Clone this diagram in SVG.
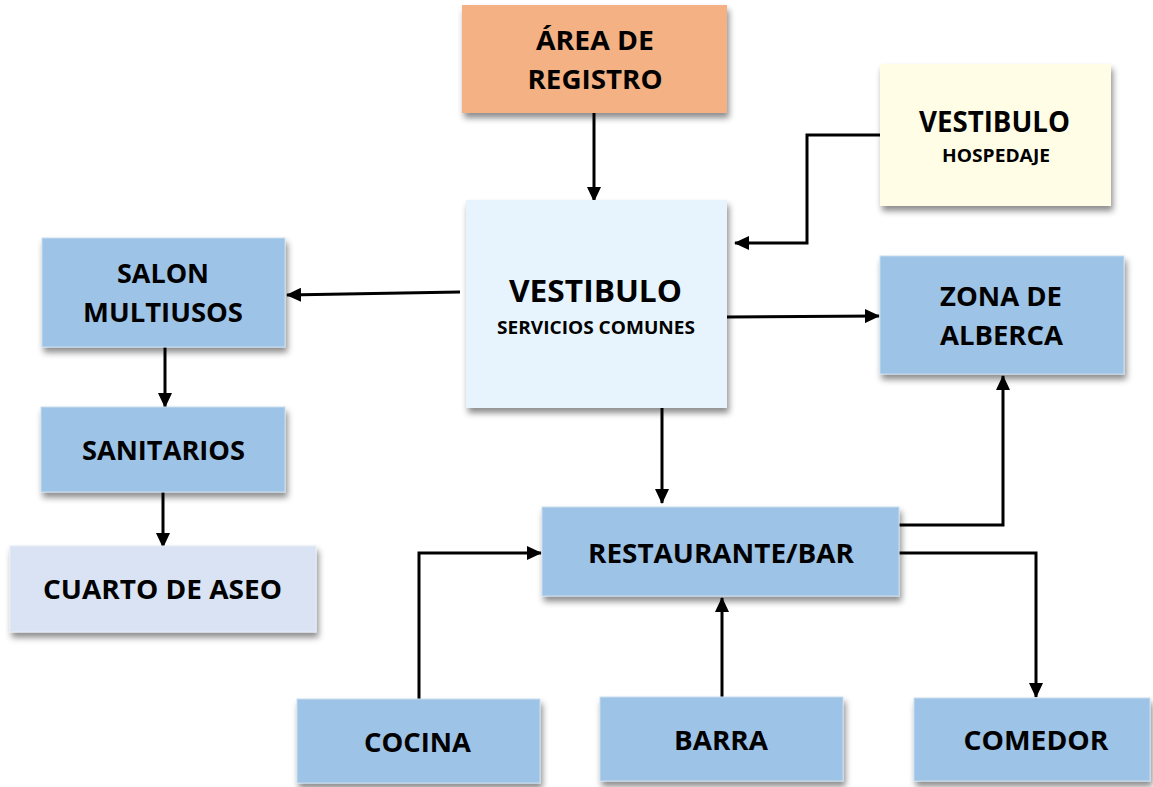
<svg xmlns="http://www.w3.org/2000/svg" width="1153" height="787" viewBox="0 0 1153 787">
<defs>
<filter id="sh" x="-10%" y="-10%" width="130%" height="140%">
<feDropShadow dx="2" dy="5" stdDeviation="3" flood-color="#000" flood-opacity="0.45"/>
</filter>
<marker id="ah" viewBox="0 0 15 14" refX="14" refY="7" markerWidth="15" markerHeight="14" markerUnits="userSpaceOnUse" orient="auto">
<path d="M0,0 L15,7 L0,14 Z" fill="#000"/>
</marker>
<style>
.box{filter:url(#sh);}
.blue{fill:#9DC3E6;stroke:#C9DDF0;stroke-width:1;}
.t{font-family:"Open Sans","Liberation Sans",sans-serif;font-weight:700;fill:#000;text-anchor:middle;}
.big{font-size:27px;}
.sm{font-size:17px;}
.c{fill:none;stroke:#000;stroke-width:3;marker-end:url(#ah);}
</style>
</defs>
<rect width="1153" height="787" fill="#fff"/>

<g id="connectors">
<path class="c" d="M594,113 V201"/>
<path class="c" d="M880,135 H807 V243 H735"/>
<path class="c" d="M460,292 L287,295"/>
<path class="c" d="M727,317 L879,316"/>
<path class="c" d="M165,347 V407"/>
<path class="c" d="M163,492 V547"/>
<path class="c" d="M662,408 V503"/>
<path class="c" d="M899,525 H1003 V376"/>
<path class="c" d="M899,553 H1036 V697"/>
<path class="c" d="M419,700 V553 H541"/>
<path class="c" d="M722,697 V598"/>
</g>

<g id="registro">
<rect class="box" x="462" y="5" width="265" height="108" fill="#F4B183"/>
<text class="t big" x="595" y="50" textLength="118" lengthAdjust="spacingAndGlyphs">ÁREA DE</text>
<text class="t big" x="595" y="89" textLength="135" lengthAdjust="spacingAndGlyphs">REGISTRO</text>
</g>

<g id="vestibulo-hospedaje">
<rect class="box" x="880" y="64" width="231" height="142" fill="#FFFDE6"/>
<text class="t" style="font-size:28px" x="994.5" y="132" textLength="151" lengthAdjust="spacingAndGlyphs">VESTIBULO</text>
<text class="t sm" x="996" y="162" textLength="108" lengthAdjust="spacingAndGlyphs">HOSPEDAJE</text>
</g>

<g id="vestibulo-servicios">
<rect class="box" x="466" y="200" width="261" height="208" fill="#E7F4FD"/>
<text class="t" style="font-size:30px" x="595.5" y="302" textLength="173" lengthAdjust="spacingAndGlyphs">VESTIBULO</text>
<text class="t sm" x="596" y="334" textLength="198" lengthAdjust="spacingAndGlyphs">SERVICIOS COMUNES</text>
</g>

<g id="salon">
<rect class="box blue" x="42" y="238" width="243" height="109"/>
<text class="t big" x="163" y="283" textLength="92" lengthAdjust="spacingAndGlyphs">SALON</text>
<text class="t big" x="163" y="322" textLength="160" lengthAdjust="spacingAndGlyphs">MULTIUSOS</text>
</g>

<g id="sanitarios">
<rect class="box blue" x="41" y="407" width="244" height="85"/>
<text class="t big" x="163.5" y="460" textLength="163" lengthAdjust="spacingAndGlyphs">SANITARIOS</text>
</g>

<g id="cuarto-aseo">
<rect class="box" x="10" y="546" width="306" height="86" fill="#DAE3F3" stroke="#E6EDF8" stroke-width="1"/>
<text class="t big" x="162.5" y="599" textLength="239" lengthAdjust="spacingAndGlyphs">CUARTO DE ASEO</text>
</g>

<g id="alberca">
<rect class="box blue" x="880" y="256" width="244" height="118"/>
<text class="t big" x="1001" y="306" textLength="122" lengthAdjust="spacingAndGlyphs">ZONA DE</text>
<text class="t big" x="1001.5" y="345" textLength="123" lengthAdjust="spacingAndGlyphs">ALBERCA</text>
</g>

<g id="restaurante">
<rect class="box blue" x="542" y="507" width="357" height="89"/>
<text class="t big" x="721" y="563" textLength="266" lengthAdjust="spacingAndGlyphs">RESTAURANTE/BAR</text>
</g>

<g id="cocina">
<rect class="box blue" x="297" y="699" width="243" height="84"/>
<text class="t big" x="417.5" y="752" textLength="107" lengthAdjust="spacingAndGlyphs">COCINA</text>
</g>

<g id="barra">
<rect class="box blue" x="600" y="697" width="243" height="84"/>
<text class="t big" x="721" y="750" textLength="94" lengthAdjust="spacingAndGlyphs">BARRA</text>
</g>

<g id="comedor">
<rect class="box blue" x="914" y="698" width="236" height="83"/>
<text class="t big" x="1036" y="750" textLength="145" lengthAdjust="spacingAndGlyphs">COMEDOR</text>
</g>
</svg>
